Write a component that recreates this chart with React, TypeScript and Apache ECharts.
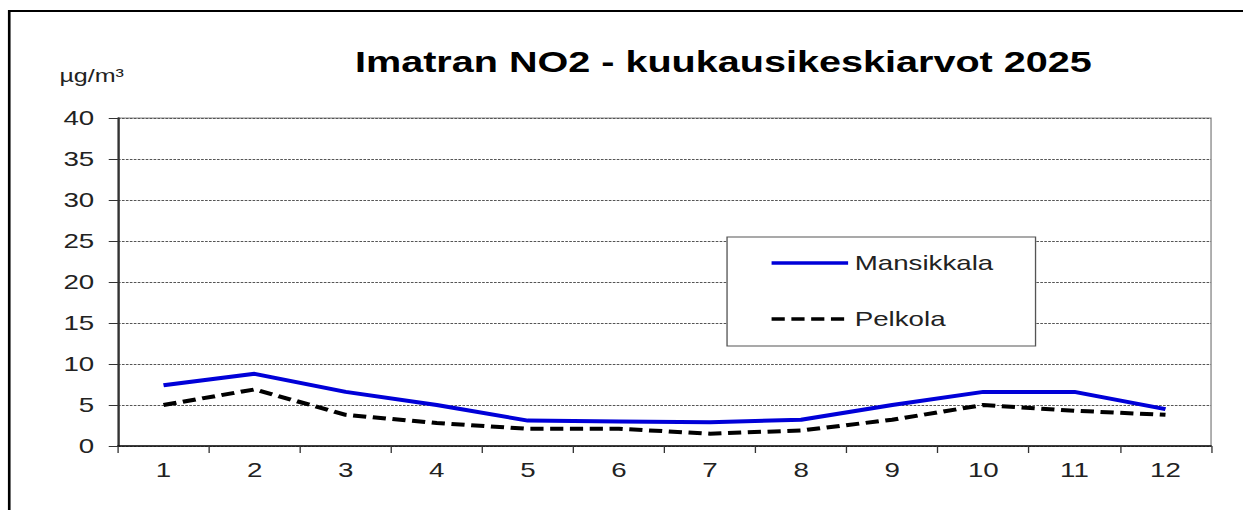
import React, { useEffect, useRef } from "react";
import * as echarts from "echarts";

const months = ["1", "2", "3", "4", "5", "6", "7", "8", "9", "10", "11", "12"];
const mansikkala = [7.4, 8.8, 6.6, 5.0, 3.1, 3.0, 2.9, 3.2, 5.0, 6.6, 6.6, 4.5];
const pelkola = [5.0, 6.9, 3.8, 2.8, 2.1, 2.1, 1.5, 1.9, 3.2, 5.0, 4.3, 3.8];
const titleText = "Imatran NO2 - kuukausikeskiarvot 2025";
const unitText = "µg/m³";

const STRETCH = 1.3195;
const W = 942;
const H = 510;
const FONT = "Liberation Sans, Arial, sans-serif";

export default function App() {
  const ref = useRef<HTMLDivElement>(null);
  useEffect(() => {
    if (!ref.current) return;
    const chart = echarts.init(ref.current, undefined, { renderer: "svg" });
    chart.setOption({
      animation: false,
      backgroundColor: "#ffffff",
      textStyle: { fontFamily: FONT },
      title: {
        text: titleText,
        left: 269,
        top: 46,
        padding: 0,
        textStyle: { fontFamily: FONT, fontSize: 30, fontWeight: "bold", color: "#000" },
      },
      graphic: [
        {
          type: "rect",
          shape: { x: 7, y: 11, width: 1200, height: 700 },
          style: { fill: "none", stroke: "#000", lineWidth: 2 },
          silent: true,
          z: 100,
        },
        {
          type: "text",
          left: 45,
          top: 66,
          style: { text: unitText, font: "19px " + FONT, fill: "#222" },
        },
      ],
      legend: {
        orient: "vertical",
        left: 551,
        top: 237,
        padding: [14, 32, 15, 32],
        itemGap: 32,
        itemWidth: 58,
        itemHeight: 14,
        borderColor: "#555",
        borderWidth: 1,
        backgroundColor: "#fff",
        itemStyle: { opacity: 0 },
        lineStyle: { width: 3.5 },
        textStyle: { fontFamily: FONT, fontSize: 21, color: "#222", lineHeight: 24 },
        data: ["Mansikkala", "Pelkola"],
      },
      grid: {
        left: 89.4,
        right: 24.2,
        top: 118,
        bottom: 64,
        show: true,
        borderColor: "#888",
        borderWidth: 1,
        backgroundColor: "transparent",
      },
      xAxis: {
        type: "category",
        data: months,
        boundaryGap: true,
        axisLine: { lineStyle: { color: "#111", width: 1.5 } },
        axisTick: { show: true, length: 7, lineStyle: { color: "#333", width: 1 } },
        axisLabel: { fontFamily: FONT, fontSize: 21, color: "#222", margin: 13 },
        splitLine: { show: false },
      },
      yAxis: {
        type: "value",
        min: 0,
        max: 40,
        interval: 5,
        axisLine: { show: true, lineStyle: { color: "#333", width: 1.6 } },
        axisTick: { show: true, length: 7, lineStyle: { color: "#333", width: 1 } },
        axisLabel: { fontFamily: FONT, fontSize: 21, color: "#222", margin: 18 },
        splitLine: { show: true, lineStyle: { color: "#555", width: 1, type: [2, 1] } },
      },
      series: [
        {
          name: "Mansikkala",
          type: "line",
          data: mansikkala,
          symbol: "none",
          lineStyle: { color: "#0000d8", width: 4 },
          itemStyle: { color: "#0000d8" },
        },
        {
          name: "Pelkola",
          type: "line",
          data: pelkola,
          symbol: "none",
          lineStyle: { color: "#000", width: 4, type: [10, 5] },
          itemStyle: { color: "#000" },
        },
      ],
    });
    return () => chart.dispose();
  }, []);
  return (
    <div
      ref={ref}
      style={{
        position: "absolute",
        left: 0,
        top: 0,
        width: W,
        height: H,
        transform: `scaleX(${STRETCH})`,
        transformOrigin: "0 0",
        background: "#fff",
      }}
    />
  );
}
